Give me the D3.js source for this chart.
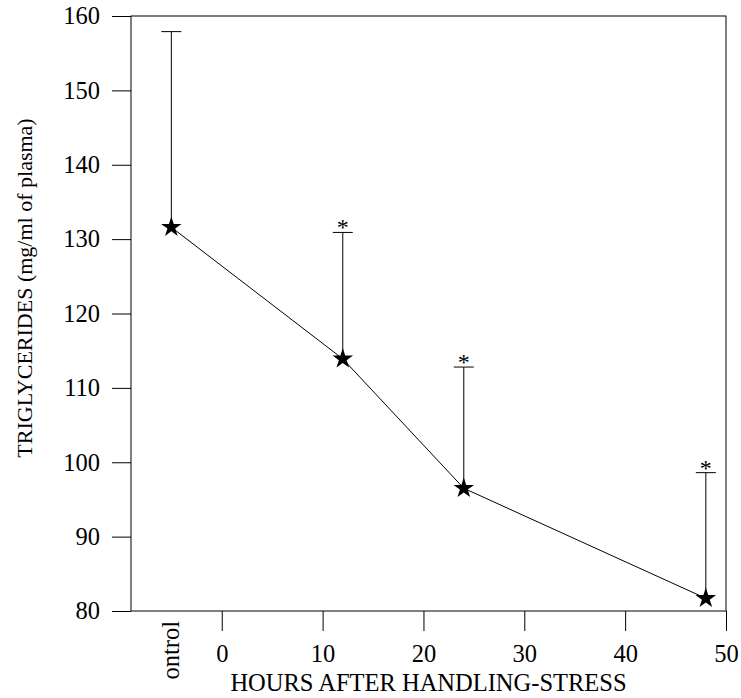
<!DOCTYPE html>
<html>
<head>
<meta charset="utf-8">
<script src="https://cdn.jsdelivr.net/npm/d3@7"></script>
<style>
  html, body { margin: 0; padding: 0; background: #fff; }
  svg { display: block; }
  text { font-family: "Liberation Serif", "Times New Roman", "DejaVu Serif", serif; fill: #000; }
</style>
</head>
<body>
<svg id="chart" width="741" height="698"></svg>
<script>
// ---- data ----
const hours = [-5, 12, 24, 48];                 // -5 = control position
const triglycerides = [131.6, 113.9, 96.5, 81.7];
const errorTop = [157.9, 130.9, 112.8, 98.6];
const significant = [false, true, true, true];
const xTicks = [0, 10, 20, 30, 40, 50];
const yTicks = [80, 90, 100, 110, 120, 130, 140, 150, 160];
const controlLabel = "ontrol";
const xTitle = "HOURS AFTER HANDLING-STRESS";
const yTitle = "TRIGLYCERIDES (mg/ml of plasma)";

// ---- layout ----
const FONT = '"Liberation Serif", "Times New Roman", "DejaVu Serif", serif';
const pLeft = 131, pRight = 726, pTop = 16, pBottom = 611;
const svg = d3.select("#chart");

const x = d3.scaleLinear().domain([-9, 50]).range([pLeft, pRight]);
const y = d3.scaleLinear().domain([80, 160]).range([pBottom, pTop]);

// frame
svg.append("rect")
  .attr("x", pLeft).attr("y", pTop)
  .attr("width", pRight - pLeft).attr("height", pBottom - pTop)
  .attr("fill", "none").attr("stroke", "#000").attr("stroke-width", 1);

// y axis
const yAxis = svg.append("g")
  .attr("transform", `translate(${pLeft},0)`)
  .attr("font-family", FONT)
  .call(d3.axisLeft(y).tickValues(yTicks).tickSize(19).tickSizeOuter(0).tickPadding(12));
yAxis.attr("font-family", FONT).attr("font-size", null);
yAxis.select(".domain").remove();
yAxis.selectAll("line").attr("stroke", "#000");
yAxis.selectAll("text")
  .style("font-family", FONT)
  .style("font-size", "24.5px").attr("fill", "#000");

// x axis
const xAxis = svg.append("g")
  .attr("transform", `translate(0,${pBottom})`)
  .call(d3.axisBottom(x).tickValues(xTicks).tickSize(20).tickSizeOuter(0).tickPadding(14));
xAxis.attr("font-family", FONT).attr("font-size", null);
xAxis.select(".domain").remove();
xAxis.selectAll("line").attr("stroke", "#000");
xAxis.selectAll("text")
  .style("font-family", FONT)
  .style("font-size", "24.5px").attr("fill", "#000");

// control label (rotated)
svg.append("text")
  .attr("transform", `translate(${x(hours[0]) + 8},${pBottom + 10}) rotate(-90)`)
  .attr("text-anchor", "end")
  .style("font-size", "24.5px")
  .text(controlLabel);

// axis titles
svg.append("text")
  .attr("x", (pLeft + pRight) / 2).attr("y", 691)
  .attr("text-anchor", "middle")
  .style("font-size", "24.5px")
  .text(xTitle);

svg.append("text")
  .attr("transform", `translate(32,288) rotate(-90)`)
  .attr("text-anchor", "middle")
  .style("font-size", "22px")
  .text(yTitle);

// error bars
const pts = hours.map((h, i) => ({h, v: triglycerides[i], e: errorTop[i], s: significant[i]}));
const eb = svg.append("g");
eb.selectAll("line.v").data(pts).join("line")
  .attr("x1", d => x(d.h)).attr("x2", d => x(d.h))
  .attr("y1", d => y(d.v)).attr("y2", d => y(d.e))
  .attr("stroke", "#000").attr("stroke-width", 1);
eb.selectAll("line.c").data(pts).join("line")
  .attr("x1", d => x(d.h) - 10).attr("x2", d => x(d.h) + 10)
  .attr("y1", d => y(d.e)).attr("y2", d => y(d.e))
  .attr("stroke", "#000").attr("stroke-width", 1);
eb.selectAll("text").data(pts.filter(d => d.s)).join("text")
  .attr("x", d => x(d.h)).attr("y", d => y(d.e) + 3)
  .attr("text-anchor", "middle")
  .style("font-size", "24px")
  .text("*");

// line
svg.append("path").datum(pts)
  .attr("d", d3.line().x(d => x(d.h)).y(d => y(d.v)))
  .attr("fill", "none").attr("stroke", "#000").attr("stroke-width", 1);

// stars
svg.selectAll("path.star").data(pts).join("path")
  .attr("class", "star")
  .attr("transform", d => `translate(${x(d.h)},${y(d.v)})`)
  .attr("d", d3.symbol(d3.symbolStar, 130))
  .attr("fill", "#000");
</script>
</body>
</html>
